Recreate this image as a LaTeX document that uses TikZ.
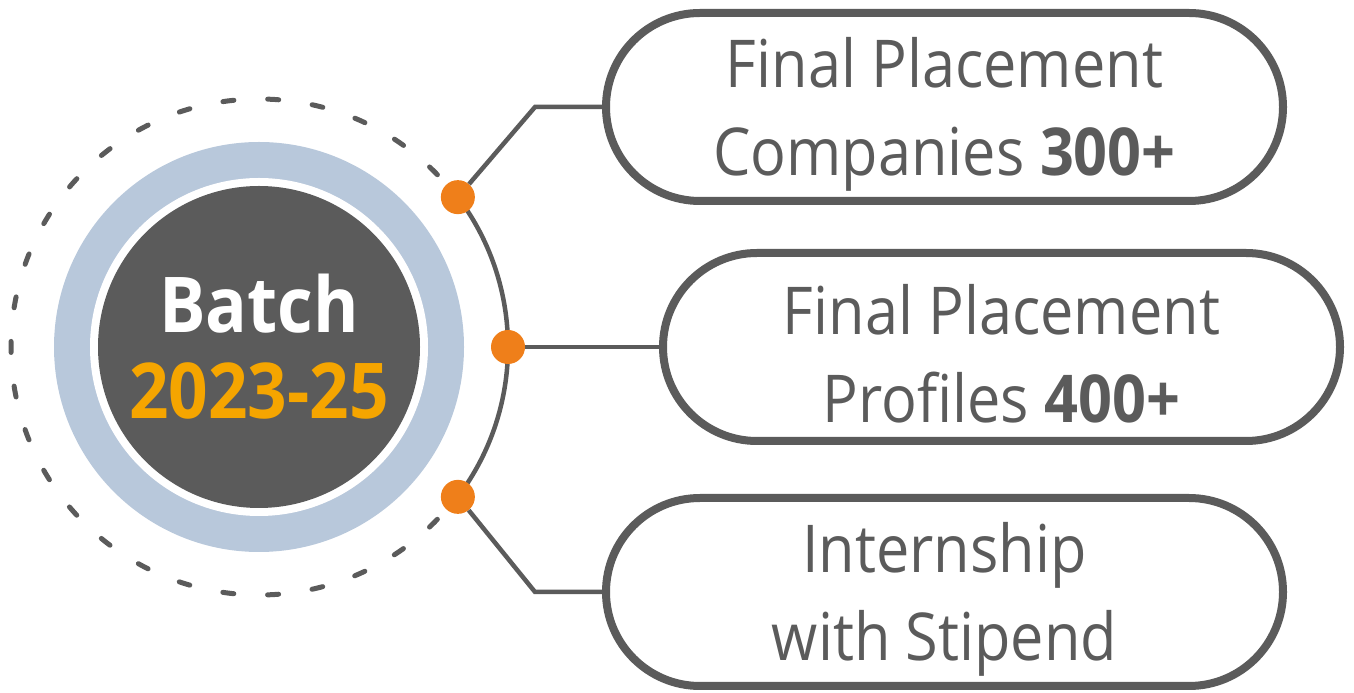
\documentclass[tikz,border=0pt]{standalone}
\usepackage{fontspec}
\setmainfont[FakeStretch=0.9]{Open Sans}
\usetikzlibrary{positioning}

\definecolor{darkgrey}{HTML}{5B5B5B}
\definecolor{ringblue}{HTML}{B8C8DB}
\definecolor{dotorange}{HTML}{EF7F1A}
\definecolor{yearorange}{HTML}{F5A500}

\tikzset{
  pill/.style={draw=darkgrey, line width=8pt, rounded corners=94pt,
    minimum width=677pt, minimum height=188pt, inner sep=0pt},
  pilltext/.style={align=center, text=darkgrey, inner sep=0pt,
    font=\fontsize{66}{88}\selectfont},
  joint/.style={circle, fill=dotorange, minimum size=34pt, inner sep=0pt},
  link/.style={darkgrey, line width=4.5pt},
}

\begin{document}
\begin{tikzpicture}[x=1pt, y=1pt]
\useasboundingbox (0,0) rectangle (1354,693);

% Batch
\coordinate (c) at (259,346);
\fill[ringblue] (c) circle (205);
\fill[white] (c) circle (169);
\node[circle, fill=darkgrey, minimum size=322pt, inner sep=0pt, align=center,
  font=\fontsize{77}{86}\selectfont\bfseries] (batch) at (c)
  {\textcolor{white}{Batch}\\\textcolor{yearorange}{2023-25}};

% orbit
\draw[darkgrey, line width=5pt, line cap=round, dash pattern=on 11pt off 33.86pt]
  ([shift={(44:248)}]c) arc (44:316:248);
\draw[darkgrey, line width=4.5pt] ([shift={(-37:249)}]c) arc (-37:37:249);

% joints
\foreach \a/\n in {37/j1, 0/j2, -37/j3} {
  \node[joint] (\n) at ([shift={(\a:249)}]c) {};
}

% boxes
\node[pill] (companies) at (944.5,586) {};
\node[pill] (profiles) at (1001.5,346) {};
\node[pill] (internship) at (944.5,101) {};
\node[pilltext] (companies-text) at ([yshift=-7pt]companies.center)
  {Final Placement\\Companies \textbf{300+}};
\node[pilltext] (profiles-text) at ([yshift=-7pt]profiles.center)
  {Final Placement\\Profiles \textbf{400+}};
\node[pilltext] (internship-text) at ([yshift=-7pt]internship.center)
  {Internship\\with Stipend};

% links
\coordinate (k1) at (535,586);
\coordinate (k3) at (535,101);
\draw[link] (j1) -- (k1) -- (companies.west);
\draw[link] (j2) -- (j2 -| profiles.west);
\draw[link] (j3) -- (k3) -- (internship.west);

\end{tikzpicture}
\end{document}
